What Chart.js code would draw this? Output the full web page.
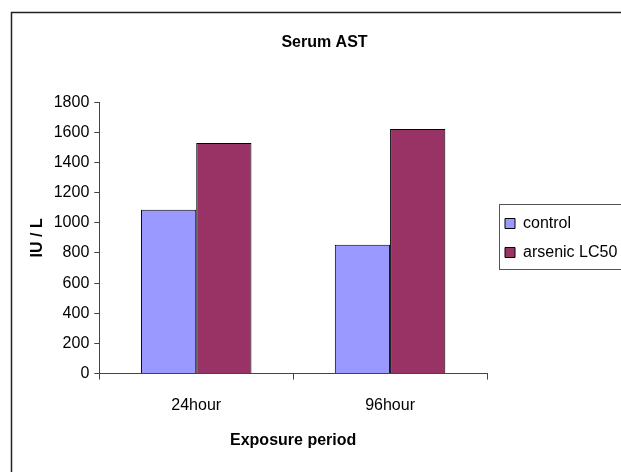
<!DOCTYPE html>
<html>
<head>
<meta charset="utf-8">
<script src="https://cdn.jsdelivr.net/npm/chart.js@4.4.1/dist/chart.umd.min.js"></script>
<style>
  html, body { margin: 0; padding: 0; background: #fff; }
  #wrap { width: 621px; height: 472px; }
</style>
</head>
<body>
<div id="wrap"><canvas id="bar-chart"></canvas></div>
<script>
const periods = ['24hour', '96hour'];
const controlValues = [1087, 855];
const arsenicValues = [1530, 1623];
const yTicks = [0, 200, 400, 600, 800, 1000, 1200, 1400, 1600, 1800];

const ctx = document.getElementById('bar-chart');
const font = 'Liberation Sans, Arial, sans-serif';
const legendPad = 13;
const legendShift = { x: 5, y: 13 };

// outer frame + legend frame, the way the excel chart has them
const frames = {
    id: 'frames',
    afterUpdate(chart) {
        // nudge the legend a bit right/down, like the original
        chart.legend.left += legendShift.x;
        chart.legend.right += legendShift.x;
        chart.legend.top += legendShift.y;
        chart.legend.bottom += legendShift.y;
    },
    beforeDraw(chart) {
        const c = chart.ctx;
        c.save();
        c.fillStyle = '#fff';
        c.fillRect(0, 0, chart.width, chart.height);
        c.strokeStyle = '#222';
        c.lineWidth = 1.5;
        c.strokeRect(11.5, 12.5, 700, 600);
        c.restore();
    },
    afterDraw(chart) {
        const boxes = chart.legend.legendHitBoxes;
        if (!boxes || !boxes.length) return;
        const c = chart.ctx;
        const first = boxes[0];
        const last = boxes[boxes.length - 1];
        c.save();
        c.strokeStyle = '#555';
        c.lineWidth = 1;
        const left = chart.legend.left + legendPad - 6;
        const top = first.top + legendShift.y + first.height / 2 - 20;
        const bottom = last.top + legendShift.y + last.height / 2 + 16;
        c.strokeRect(Math.round(left) + 0.5, Math.round(top) + 0.5, 300, Math.round(bottom - top));
        c.restore();
    }
};

new Chart(ctx, {
    type: 'bar',
    data: {
        labels: periods,
        datasets: [{
            label: 'control',
            data: controlValues,
            backgroundColor: '#9999ff',
            borderColor: '#000',
            borderWidth: 1,
            borderSkipped: 'bottom'
        }, {
            label: 'arsenic LC50',
            data: arsenicValues,
            backgroundColor: '#993366',
            borderColor: '#000',
            borderWidth: 1,
            borderSkipped: 'bottom'
        }]
    },
    options: {
        responsive: true,
        maintainAspectRatio: false,
        animation: false,
        layout: { padding: { left: 28, right: 0, top: 0, bottom: 22 } },
        datasets: {
            bar: { categoryPercentage: 0.57, barPercentage: 1 }
        },
        plugins: {
            title: {
                display: true,
                text: 'Serum AST',
                color: '#000',
                font: { family: font, size: 16, weight: 'bold' },
                padding: { top: 33, bottom: 50 }
            },
            legend: {
                position: 'right',
                maxWidth: 134,
                labels: {
                    color: '#000',
                    font: { family: font, size: 16 },
                    boxWidth: 10,
                    boxHeight: 10,
                    padding: legendPad
                }
            },
            tooltip: { enabled: false }
        },
        scales: {
            x: {
                offset: true,
                grid: { display: true, offset: true, drawOnChartArea: false, tickLength: 6, color: '#444' },
                border: { display: true, color: '#444' },
                ticks: { color: '#000', font: { family: font, size: 16 }, padding: 16 },
                title: {
                    display: true,
                    text: 'Exposure period',
                    color: '#000',
                    font: { family: font, size: 16, weight: 'bold' },
                    padding: { top: 0, bottom: 0 }
                }
            },
            y: {
                min: 0,
                max: 1800,
                afterBuildTicks: axis => { axis.ticks = yTicks.map(v => ({ value: v })); },
                grid: { display: true, drawOnChartArea: false, tickLength: 5, color: '#444' },
                border: { display: true, color: '#444' },
                ticks: {
                    color: '#000',
                    font: { family: font, size: 16 },
                    padding: 5,
                    callback: v => String(v)
                },
                title: {
                    display: true,
                    text: 'IU / L',
                    color: '#000',
                    font: { family: font, size: 16, weight: 'bold' },
                    padding: { top: 0, bottom: 1.5 }
                }
            }
        }
    },
    plugins: [frames]
});
</script>
</body>
</html>
